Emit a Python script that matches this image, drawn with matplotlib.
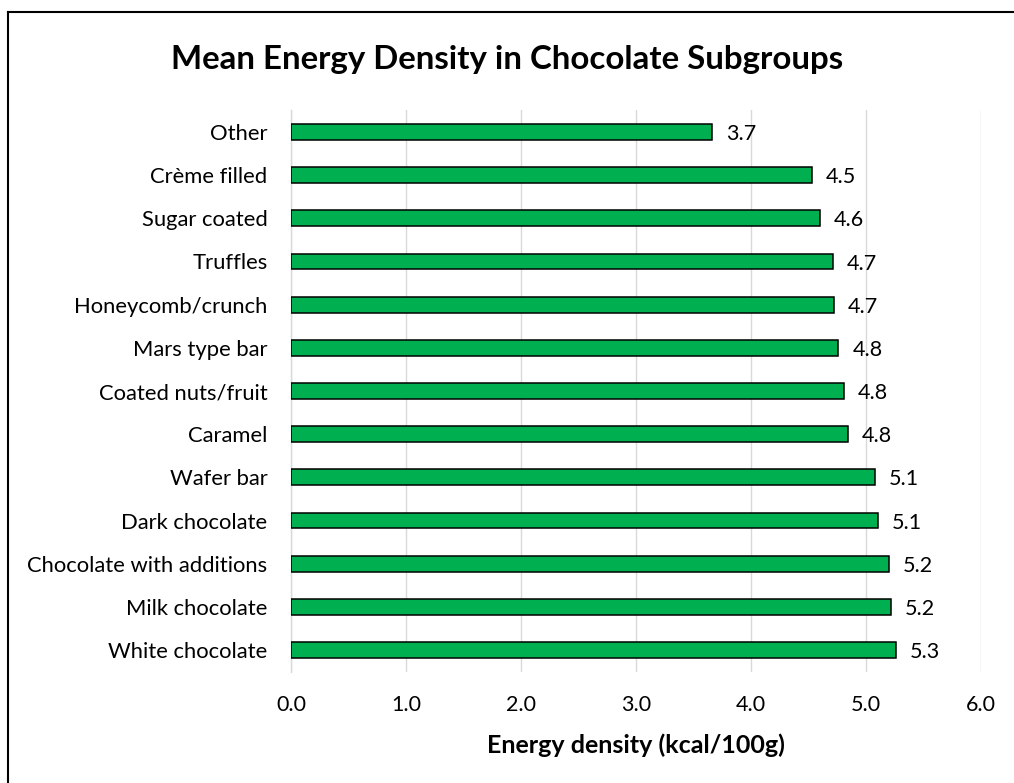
"""Mean energy density by chocolate subgroup - horizontal bar chart"""

import matplotlib
matplotlib.use('Agg')
import matplotlib.pyplot as plt
from matplotlib.lines import Line2D

# Data (top to bottom as shown in the chart)
categories = ['Other', 'Crème filled', 'Sugar coated', 'Truffles', 'Honeycomb/crunch',
              'Mars type bar', 'Coated nuts/fruit', 'Caramel', 'Wafer bar',
              'Dark chocolate', 'Chocolate with additions', 'Milk chocolate',
              'White chocolate']
energy = [3.66, 4.53, 4.60, 4.71, 4.72, 4.76, 4.81, 4.84, 5.08, 5.10, 5.20, 5.22, 5.26]
x_ticks = [0, 1, 2, 3, 4, 5, 6]

FONT = 'Lato'
BAR_COLOR = '#00B050'
GRID_COLOR = '#D9D9D9'

plt.rcParams['font.family'] = [FONT, 'DejaVu Sans']

fig = plt.figure(figsize=(10.14, 7.83), dpi=100)
ax = fig.add_axes([291 / 1014, 1 - 671.6 / 783, 690 / 1014, 561.2 / 783])

y_pos = list(range(len(categories)))
ax.barh(y_pos, energy, height=0.37, color=BAR_COLOR, edgecolor='black', linewidth=1.1,
        zorder=3)

# Data labels
for y, v in zip(y_pos, energy):
    ax.annotate(f'{v:.1f}', (v, y), xytext=(10, -1.5), textcoords='offset points',
                ha='left', va='center', fontsize=15.5, color='#000000')

ax.set_ylim(len(categories) - 0.5, -0.5)
ax.set_xlim(0, 6)
ax.set_xticks(x_ticks)
ax.set_xticklabels([f'{t:.1f}' for t in x_ticks], fontsize=15.5)
ax.set_yticks(y_pos)
ax.set_yticklabels(categories, fontsize=15.8)
ax.tick_params(axis='both', length=0, colors='#000000')
ax.tick_params(axis='x', pad=17)
ax.tick_params(axis='y', pad=17)

ax.grid(axis='x', color=GRID_COLOR, linewidth=1.0, zorder=0)
for side in ['top', 'right', 'bottom']:
    ax.spines[side].set_visible(False)
ax.spines['left'].set_color(GRID_COLOR)
ax.spines['left'].set_linewidth(1.0)

ax.set_xlabel('Energy density (kcal/100g)', fontsize=18, fontweight='bold', labelpad=13)

fig.text(0.5, 1 - 59 / 783, 'Mean Energy Density in Chocolate Subgroups',
         ha='center', va='center', fontsize=23.8, fontweight='bold')

# Chart border (top and left edges visible)
fig.add_artist(Line2D([7.5 / 1014, 1], [1 - 12 / 783, 1 - 12 / 783], color='black',
                      linewidth=1.5, transform=fig.transFigure))
fig.add_artist(Line2D([7.5 / 1014, 7.5 / 1014], [0, 1 - 12 / 783], color='black',
                      linewidth=1.5, transform=fig.transFigure))

fig.savefig('out.png', dpi=100)
